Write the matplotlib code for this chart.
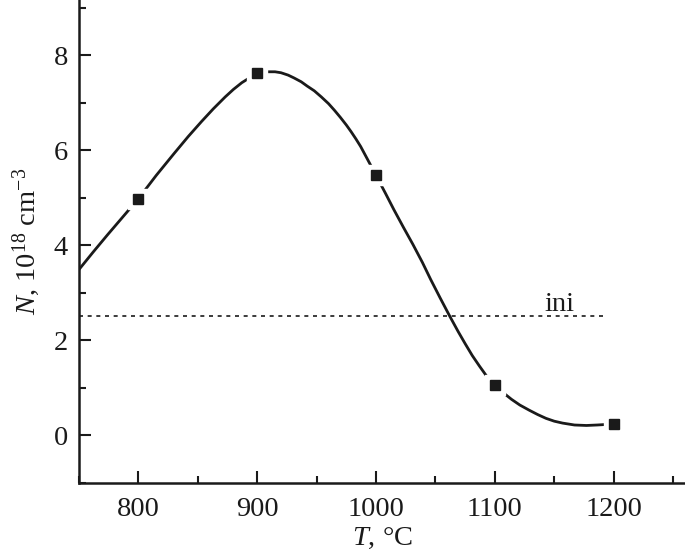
import matplotlib
matplotlib.use("Agg")
import matplotlib.pyplot as plt
from matplotlib.ticker import MultipleLocator

plt.rcParams['font.family'] = ['Liberation Serif', 'DejaVu Serif']
plt.rcParams['mathtext.fontset'] = 'custom'
plt.rcParams['mathtext.rm'] = 'Liberation Serif'
plt.rcParams['mathtext.it'] = 'Liberation Serif:italic'

# measured points
temps = [800, 900, 1000, 1100, 1200]
conc = [4.98, 7.62, 5.47, 1.07, 0.25]

# smooth guide curve
curve_t = [750, 762, 774, 787, 800, 815, 830, 842, 853, 863, 873, 880, 887, 894, 900, 908, 915,
           920, 926, 931, 937, 942, 948, 954, 960, 965, 970, 975, 979, 983, 987, 993, 1000,
           1008, 1015, 1023, 1031, 1039, 1046, 1054, 1062, 1069, 1075, 1081, 1087, 1093, 1100,
           1107, 1114, 1121, 1129, 1136, 1143, 1150, 1157, 1167, 1177, 1186, 1193]
curve_n = [3.49, 3.86, 4.22, 4.60, 4.98, 5.47, 5.93, 6.29, 6.60, 6.87, 7.12, 7.28, 7.42, 7.53, 7.60, 7.65, 7.65,
           7.63, 7.58, 7.52, 7.44, 7.35, 7.25, 7.12, 6.98, 6.84, 6.69, 6.53, 6.39, 6.24, 6.08, 5.80, 5.47,
           5.09, 4.75, 4.38, 4.02, 3.64, 3.28, 2.89, 2.51, 2.19, 1.93, 1.68, 1.46, 1.25, 1.06,
           0.90, 0.76, 0.64, 0.53, 0.44, 0.36, 0.30, 0.26, 0.22, 0.21, 0.22, 0.23]

ini_level = 2.51
ini_range = [750, 1192]

fig = plt.figure(figsize=(6.85, 5.56), dpi=100)
ax = fig.add_axes([0.1153, 0.1313, 0.8847, 0.8687])

ax.plot(curve_t, curve_n, color='#1a1a1a', lw=2.0, solid_capstyle='butt',
        solid_joinstyle='round', zorder=2)
ax.plot(ini_range, [ini_level, ini_level], color='#1a1a1a', lw=1.2,
        dashes=(2.4, 2.8), zorder=2)
ax.text(1154, 2.62, 'ini', fontsize=20.5, ha='center', va='baseline', color='#1a1a1a')

# white halo so the curve breaks around the markers
ax.plot(temps, conc, 's', ms=15, color='white', mec='white', zorder=3)
ax.plot(temps, conc, 's', ms=7, color='#1a1a1a', mec='#1a1a1a', zorder=4)

ax.set_xlim(750, 1260)
ax.set_ylim(-1, 9.16)
ax.xaxis.set_major_locator(MultipleLocator(100))
ax.xaxis.set_minor_locator(MultipleLocator(50))
ax.yaxis.set_major_locator(MultipleLocator(2))
ax.yaxis.set_minor_locator(MultipleLocator(1))
ax.tick_params(which='both', direction='in', width=1.5, colors='#1a1a1a', labelsize=20.5)
ax.tick_params(which='major', length=8.3)
ax.tick_params(which='minor', length=5)
ax.tick_params(axis='x', pad=10)
ax.tick_params(axis='y', pad=8)

for side in ['top', 'right']:
    ax.spines[side].set_visible(False)
for side in ['left', 'bottom']:
    ax.spines[side].set_linewidth(1.8)
    ax.spines[side].set_color('#1a1a1a')

ax.set_xlabel(r'$T$, °C', fontsize=20.5, labelpad=3, color='#1a1a1a')
ax.set_ylabel(r'$N$, 10$^{18}$ cm$^{-3}$', fontsize=20.5, labelpad=8, color='#1a1a1a')

fig.savefig('out.png', dpi=100)
